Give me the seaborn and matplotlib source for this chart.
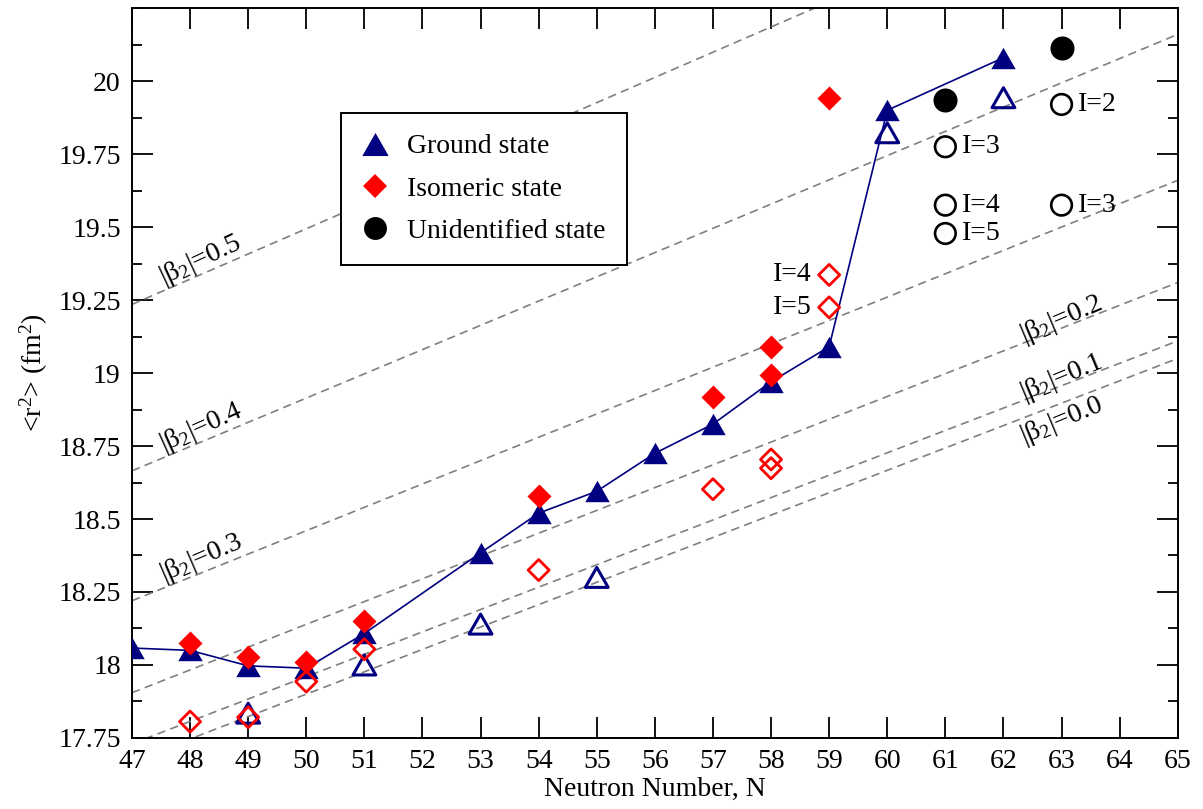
import numpy as np
import pandas as pd
import matplotlib
matplotlib.use("Agg")
import matplotlib.pyplot as plt
from matplotlib.lines import Line2D
from matplotlib.path import Path
from matplotlib.ticker import MultipleLocator, FixedLocator, FuncFormatter
import seaborn as sns

# ---------------- data ----------------
gs_n = [47, 48, 49, 50, 51, 53, 54, 55, 56, 57, 58, 59, 60, 62]
gs_r2 = [18.058, 18.05, 17.997, 17.989, 18.108, 18.384, 18.52, 18.595, 18.725,
         18.825, 18.97, 19.09, 19.90, 20.08]
gs_open_n = [49, 51, 53, 55, 60, 62]
gs_open_r2 = [17.835, 18.0, 18.14, 18.30, 19.823, 19.943]
iso_n = [48, 49, 50, 51, 54, 57, 58, 58, 59]
iso_r2 = [18.076, 18.026, 18.011, 18.152, 18.58, 18.919, 19.09, 18.993, 19.943]
iso_open_n = [48, 49, 50, 51, 54, 57, 58, 58, 59, 59]
iso_open_r2 = [17.806, 17.821, 17.943, 18.054, 18.325, 18.602, 18.704, 18.674,
               19.336, 19.225]
iso_open_labels = ["", "", "", "", "", "", "", "", "I=4", "I=5"]
un_n = [61, 63]
un_r2 = [19.934, 20.115]
un_open_n = [61, 61, 61, 63, 63]
un_open_r2 = [19.775, 19.575, 19.478, 19.92, 19.575]
un_open_labels = ["I=3", "I=4", "I=5", "I=2", "I=3"]

# constant-deformation reference lines: value at N=47 and N=65
beta_labels = ["0.0", "0.1", "0.2", "0.3", "0.4", "0.5"]
beta_r2_at47 = [17.67, 17.73, 17.905, 18.22, 18.665, 19.235]
beta_r2_at65 = [19.05, 19.11, 19.31, 19.66, 20.16, 20.79]
beta_line_n = [47, 65]

x_ticks = list(range(47, 66))
y_ticks = [17.75, 18.0, 18.25, 18.5, 18.75, 19.0, 19.25, 19.5, 19.75, 20.0]

# ---------------- style ----------------
sns.set_style("white")
plt.rcParams["font.family"] = ["Liberation Serif", "DejaVu Serif"]
plt.rcParams["mathtext.fontset"] = "custom"
plt.rcParams["mathtext.rm"] = "Liberation Serif"
plt.rcParams["mathtext.it"] = "Liberation Serif:italic"
plt.rcParams["font.size"] = 20
for k in ["text.color", "axes.labelcolor", "xtick.color", "ytick.color",
          "axes.edgecolor"]:
    plt.rcParams[k] = "black"

NAVY = "#000080"
RED = "#ff0000"

fig = plt.figure(figsize=(12.03, 8.09), dpi=100)
ax = fig.add_axes([0.1097, 0.0878, 0.979 - 0.1097, 0.990 - 0.0878])

ax.set_xlim(47, 65)
ax.set_ylim(17.75, 20.25)

# reference dashed lines
for lab, a, b in zip(beta_labels, beta_r2_at47, beta_r2_at65):
    df = pd.DataFrame({"N": beta_line_n, "r2": [a, b]})
    sns.lineplot(data=df, x="N", y="r2", ax=ax, color="#808080", lw=1.2,
                 dashes=False, linestyle=(0, (5, 3.2)), zorder=1)

# triangle marker (wider than tall), closed path
tri = Path([(-1, -0.875), (1, -0.875), (0, 0.875), (-1, -0.875)],
           [Path.MOVETO, Path.LINETO, Path.LINETO, Path.CLOSEPOLY])

# ground state connecting line
gs_df = pd.DataFrame({"N": gs_n, "r2": gs_r2})
sns.lineplot(data=gs_df, x="N", y="r2", ax=ax, color=NAVY, lw=1.2, sort=False,
             zorder=2)

sns.scatterplot(x=gs_open_n, y=gs_open_r2, ax=ax, marker=tri, s=270,
                facecolor="none", edgecolor=NAVY, linewidth=2.2, zorder=3)
sns.scatterplot(data=gs_df, x="N", y="r2", ax=ax, marker=tri, s=310,
                color=NAVY, edgecolor=NAVY, linewidth=0, zorder=4)

sns.scatterplot(x=iso_open_n, y=iso_open_r2, ax=ax, marker="D", s=115,
                facecolor="none", edgecolor=RED, linewidth=2.0, zorder=5)
sns.scatterplot(x=iso_n, y=iso_r2, ax=ax, marker="D", s=150,
                color=RED, edgecolor=RED, linewidth=0, zorder=6)

sns.scatterplot(x=un_open_n, y=un_open_r2, ax=ax, marker="o", s=220,
                facecolor="none", edgecolor="black", linewidth=1.9, zorder=5)
sns.scatterplot(x=un_n, y=un_r2, ax=ax, marker="o", s=300,
                color="black", edgecolor="black", linewidth=0, zorder=6)

# state labels
for n, r, t in zip(un_open_n, un_open_r2, un_open_labels):
    ax.text(n + 0.28, r, t, ha="left", va="center", fontsize=20, zorder=7)
for n, r, t in zip(iso_open_n, iso_open_r2, iso_open_labels):
    if t:
        ax.text(n - 0.3, r, t, ha="right", va="center", fontsize=20, zorder=7)

# beta labels
fig.canvas.draw()
def line_angle(a, b):
    p0 = ax.transData.transform((47, a))
    p1 = ax.transData.transform((65, b))
    return np.degrees(np.arctan2(p1[1] - p0[1], p1[0] - p0[0]))

label_pos = {"0.5": (47.55, 0.02), "0.4": (47.55, 0.02), "0.3": (47.55, 0.02),
             "0.2": (62.35, 0.0), "0.1": (62.35, 0.0), "0.0": (62.35, -0.09)}
for lab, a, b in zip(beta_labels, beta_r2_at47, beta_r2_at65):
    n0, off = label_pos[lab]
    y0 = a + (b - a) * (n0 - 47) / 18 + off
    ax.text(n0, y0, "|β$_2$|=" + lab, rotation=line_angle(a, b) + 1.5,
            rotation_mode="anchor", ha="left", va="baseline", fontsize=20,
            zorder=7)

# axes, ticks
ax.xaxis.set_major_locator(FixedLocator(x_ticks))
ax.yaxis.set_major_locator(FixedLocator(y_ticks))
ax.yaxis.set_minor_locator(MultipleLocator(0.125))
ax.yaxis.set_major_formatter(FuncFormatter(lambda v, p: f"{v:g}"))
ax.tick_params(which="both", direction="in", top=True, right=True,
               bottom=True, left=True, width=1.3, colors="black",
               labelsize=20)
ax.tick_params(which="major", length=15, pad=8)
ax.tick_params(which="minor", length=7.5)
ax.tick_params(axis="x", which="minor", length=0)
for s in ax.spines.values():
    s.set_linewidth(1.4)
    s.set_color("black")

ax.set_xlabel("Neutron Number, N", fontsize=20, labelpad=2)
ax.set_ylabel("<r$^2$> (fm$^2$)", fontsize=20, labelpad=6)

handles = [
    Line2D([], [], ls="none", marker=tri, markersize=19, color=NAVY, mew=0),
    Line2D([], [], ls="none", marker="D", markersize=12, color=RED, mew=0),
    Line2D([], [], ls="none", marker="o", markersize=16.5, color="black", mew=0),
]
leg = ax.legend(handles, ["Ground state", "Isomeric state", "Unidentified state"],
                loc="upper left", bbox_to_anchor=(0.1995, 0.856),
                borderaxespad=0, frameon=True, fancybox=False, framealpha=1,
                edgecolor="black", fontsize=20, handlelength=1.0,
                handletextpad=0.65, borderpad=0.75, labelspacing=0.6)
leg.get_frame().set_linewidth(1.4)
leg.set_zorder(10)

fig.savefig("out.png", dpi=100)
